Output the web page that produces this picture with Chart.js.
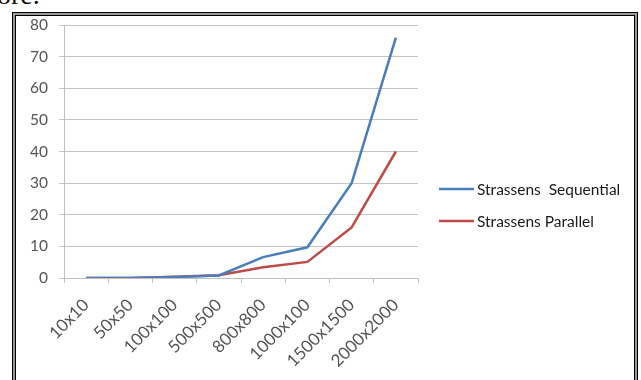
<!DOCTYPE html>
<html>
<head>
<meta charset="utf-8">
<script src="https://cdn.jsdelivr.net/npm/chart.js@4/dist/chart.umd.min.js"></script>
<style>
  html, body { margin: 0; padding: 0; background: #fff; width: 641px; height: 380px; overflow: hidden; }
  .caption { position: absolute; left: -3px; top: -21px; font-family: "Liberation Serif", serif; font-size: 28px; color: #111; }
  .frame { position: absolute; left: 12px; top: 12px; width: 624px; height: 420px; border: 1px solid #000; background: #9a9a9a; }
  .inner { position: absolute; left: 2px; top: 2px; right: 2px; bottom: 2px; border: 1px solid #000; background: #fff; }
  #chart { position: absolute; left: 0; top: 0; }
</style>
</head>
<body>
<div class="caption">ore.</div>
<div class="frame"><div class="inner"></div></div>
<canvas id="chart" width="641" height="380"></canvas>
<script>
const categories = ["10x10", "50x50", "100x100", "500x500", "800x800", "1000x100", "1500x1500", "2000x2000"];
const sequential = [0, 0, 0.3, 0.8, 6.6, 9.7, 30, 76];
const parallel = [0, 0, 0.4, 0.9, 3.4, 5.1, 16, 40];
const yTicks = { min: 0, max: 80, step: 10 };

const seriesNames = ["Strassens  Sequential", "Strassens Parallel"];
const seriesColors = ["#4a7ebb", "#be4b48"];

const FONT = "Lato";

// Legend drawn beside the plot: short line followed by the series name
const sideLegend = {
  id: "sideLegend",
  afterDraw(chart) {
    const ctx = chart.ctx;
    const area = chart.chartArea;
    const x0 = area.right + 21;
    const rows = [189, 221];
    ctx.save();
    ctx.font = "15.5px " + FONT;
    ctx.textBaseline = "middle";
    ctx.textAlign = "left";
    chart.data.datasets.forEach((ds, i) => {
      const y = rows[i];
      ctx.strokeStyle = ds.borderColor;
      ctx.lineWidth = 2.5;
      ctx.beginPath();
      ctx.moveTo(x0, y);
      ctx.lineTo(x0 + 35, y);
      ctx.stroke();
      ctx.fillStyle = "#1a1a1a";
      ctx.fillText(ds.label, x0 + 38, y + 1);
    });
    ctx.restore();
  }
};

new Chart(document.getElementById("chart"), {
  type: "line",
  data: {
    labels: categories,
    datasets: [
      { label: seriesNames[0], data: sequential, borderColor: seriesColors[0], backgroundColor: seriesColors[0], borderWidth: 2.5, pointRadius: 0, tension: 0 },
      { label: seriesNames[1], data: parallel, borderColor: seriesColors[1], backgroundColor: seriesColors[1], borderWidth: 2.5, pointRadius: 0, tension: 0 }
    ]
  },
  options: {
    responsive: false,
    animation: false,
    layout: { padding: { left: 0, top: 25, right: 223, bottom: 0 } },
    plugins: { legend: { display: false }, tooltip: { enabled: false } },
    scales: {
      x: {
        offset: true,
        grid: { offset: true, drawOnChartArea: false, tickLength: 5, color: "#bfbfbf" },
        border: { color: "#bfbfbf", width: 1 },
        ticks: { font: { family: FONT, size: 17 }, color: "#555", minRotation: 45, maxRotation: 45, padding: 12, autoSkip: false },
        afterFit(scale) { scale.height = 102; }
      },
      y: {
        min: yTicks.min,
        max: yTicks.max,
        grid: { color: "#c4c4c4", tickLength: 5 },
        border: { color: "#bfbfbf", width: 1 },
        ticks: { stepSize: yTicks.step, font: { family: FONT, size: 15.5 }, color: "#555", padding: 11 },
        afterFit(scale) { scale.width = 64; }
      }
    }
  },
  plugins: [sideLegend]
});
</script>
</body>
</html>
